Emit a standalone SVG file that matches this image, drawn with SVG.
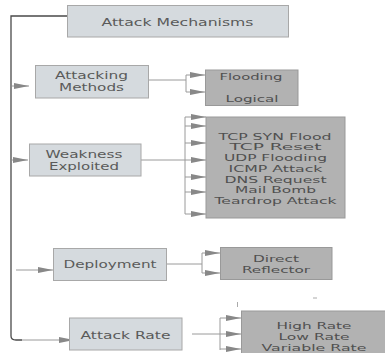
<svg xmlns="http://www.w3.org/2000/svg" width="385" height="353" viewBox="0 0 385 353">
<defs>
<marker id="arr" markerUnits="userSpaceOnUse" markerWidth="16" markerHeight="7" refX="15" refY="3" orient="auto">
<path d="M0,0 L15,3 L0,6 Z" fill="#888"/>
</marker>
<style>
.lb{fill:#d5dade;stroke:#a8a8a8;stroke-width:1}
.db{fill:#b2b2b2;stroke:#999;stroke-width:1}
.ln{fill:none;stroke:#9a9a9a;stroke-width:1}
.ar{fill:none;stroke:#9a9a9a;stroke-width:1;marker-end:url(#arr)}
.tr{fill:none;stroke:#4a4a4a;stroke-width:1.3}
text{font-family:"DejaVu Sans","Liberation Sans",sans-serif;fill:#5a5a5a;text-anchor:middle}
.t1{font-size:10.5px}
.t2{font-size:9.5px;fill:#505050}
</style>
</defs>
<rect width="385" height="353" fill="#fff"/>
<g id="connectors">
<path class="tr" d="M67,16 H11 V336 Q11,340 16,340 H22"/>
<path class="ar" d="M12,86 H29"/>
<path class="ar" d="M12,160 H28"/>
<path class="ar" d="M16,270 H53"/>
<path class="ar" d="M22,340 H74"/>
<path class="ln" d="M149,80 H186 M186,75 V92"/>
<path class="ar" d="M186,75 H205"/>
<path class="ar" d="M186,92 H205"/>
<path class="ln" d="M141,160 H185 M185,117 V214"/>
<path class="ar" d="M185,117 H206"/>
<path class="ar" d="M185,126 H206"/>
<path class="ar" d="M185,143 H206"/>
<path class="ar" d="M185,160 H206"/>
<path class="ar" d="M185,177 H206"/>
<path class="ar" d="M185,192 H206"/>
<path class="ar" d="M185,214 H206"/>
<path class="ln" d="M167,264 H202 M202,253 V273"/>
<path class="ar" d="M202,253 H220"/>
<path class="ar" d="M202,273 H220"/>
<path class="ln" d="M192,334 H220 M220,318 V350"/>
<path class="ar" d="M220,318 H241"/>
<path class="ar" d="M220,334 H241"/>
<path class="ar" d="M220,349 H241"/>
<path d="M237.5,302 V307 M313,298 H317" stroke="#aaa" stroke-width="1"/>
</g>
<g id="attack-mechanisms">
<rect class="lb" x="67.5" y="5.5" width="221" height="31.5"/>
<text class="t1" x="177.5" y="26" textLength="152" lengthAdjust="spacingAndGlyphs">Attack Mechanisms</text>
</g>
<g id="attacking-methods">
<rect class="lb" x="35.5" y="65.5" width="113" height="32.5"/>
<text class="t1" x="91.5" y="79" textLength="73" lengthAdjust="spacingAndGlyphs">Attacking</text>
<text class="t1" x="91.5" y="91" textLength="65" lengthAdjust="spacingAndGlyphs">Methods</text>
</g>
<g id="methods-list">
<rect class="db" x="205.5" y="70" width="92.5" height="35.5"/>
<text class="t2" x="251" y="80" textLength="63" lengthAdjust="spacingAndGlyphs">Flooding</text>
<text class="t2" x="252" y="102" textLength="53" lengthAdjust="spacingAndGlyphs">Logical</text>
</g>
<g id="weakness-exploited">
<rect class="lb" x="29.5" y="144" width="111.5" height="32"/>
<text class="t1" x="84" y="158" textLength="77" lengthAdjust="spacingAndGlyphs">Weakness</text>
<text class="t1" x="84" y="169.5" textLength="70" lengthAdjust="spacingAndGlyphs">Exploited</text>
</g>
<g id="weakness-list">
<rect class="db" x="206" y="117" width="139" height="101"/>
<text class="t2" x="275" y="139.5" textLength="113" lengthAdjust="spacingAndGlyphs">TCP SYN Flood</text>
<text class="t2" x="275.5" y="150.3" textLength="92" lengthAdjust="spacingAndGlyphs">TCP Reset</text>
<text class="t2" x="275.5" y="161" textLength="103" lengthAdjust="spacingAndGlyphs">UDP Flooding</text>
<text class="t2" x="275.5" y="171.8" textLength="94" lengthAdjust="spacingAndGlyphs">ICMP Attack</text>
<text class="t2" x="275.5" y="182.5" textLength="102" lengthAdjust="spacingAndGlyphs">DNS Request</text>
<text class="t2" x="275.5" y="193.3" textLength="81" lengthAdjust="spacingAndGlyphs">Mail Bomb</text>
<text class="t2" x="275.5" y="204" textLength="122" lengthAdjust="spacingAndGlyphs">Teardrop Attack</text>
</g>
<g id="deployment">
<rect class="lb" x="53.5" y="248.5" width="113" height="32"/>
<text class="t1" x="110" y="268.3" textLength="93" lengthAdjust="spacingAndGlyphs">Deployment</text>
</g>
<g id="deployment-list">
<rect class="db" x="220.5" y="247.5" width="111.5" height="32"/>
<text class="t2" x="276" y="261.7" textLength="46" lengthAdjust="spacingAndGlyphs">Direct</text>
<text class="t2" x="276" y="272.7" textLength="68" lengthAdjust="spacingAndGlyphs">Reflector</text>
</g>
<g id="attack-rate">
<rect class="lb" x="69.5" y="318" width="112.5" height="32"/>
<text class="t1" x="125.5" y="339" textLength="90" lengthAdjust="spacingAndGlyphs">Attack Rate</text>
</g>
<g id="rate-list">
<rect class="db" x="241.5" y="311" width="146" height="46"/>
<text class="t2" x="314" y="329.3" textLength="75" lengthAdjust="spacingAndGlyphs">High Rate</text>
<text class="t2" x="314" y="339.5" textLength="71" lengthAdjust="spacingAndGlyphs">Low Rate</text>
<text class="t2" x="314" y="350.7" textLength="105" lengthAdjust="spacingAndGlyphs">Variable Rate</text>
</g>
</svg>
